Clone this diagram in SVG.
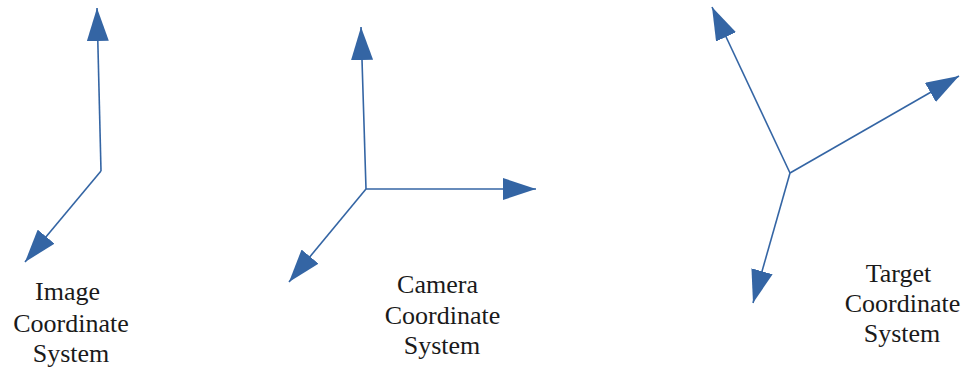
<svg xmlns="http://www.w3.org/2000/svg" width="964" height="373" viewBox="0 0 964 373">
  <defs>
    <marker id="ah" markerUnits="userSpaceOnUse" markerWidth="33" markerHeight="22" refX="33" refY="11" orient="auto" viewBox="0 0 33 22">
      <path d="M0,0 L33,11 L0,22 Z" fill="#3465a4"/>
    </marker>
  </defs>
  <style>
    .ax { stroke: #3465a4; stroke-width: 1.6; fill: none; marker-end: url(#ah); }
    .lbl { font-family: "Liberation Serif", "Times New Roman", serif; font-size: 26px; fill: #1a1a1a; text-anchor: middle; }
  </style>
  <rect width="964" height="373" fill="#ffffff"/>
  <g id="connectors">
    <line class="ax" x1="101" y1="171" x2="97" y2="8"/>
    <line class="ax" x1="101" y1="171" x2="25" y2="262"/>
    <line class="ax" x1="366" y1="189" x2="361" y2="27"/>
    <line class="ax" x1="366" y1="189" x2="536" y2="189"/>
    <line class="ax" x1="366" y1="189" x2="289" y2="282"/>
    <line class="ax" x1="790" y1="173" x2="712" y2="7"/>
    <line class="ax" x1="790" y1="173" x2="959" y2="76"/>
    <line class="ax" x1="790" y1="173" x2="753" y2="303"/>
  </g>
  <g id="image-label">
    <text class="lbl" x="67.5" y="300">Image</text>
    <text class="lbl" x="71" y="332">Coordinate</text>
    <text class="lbl" x="71" y="362">System</text>
  </g>
  <g id="camera-label">
    <text class="lbl" x="437.5" y="293">Camera</text>
    <text class="lbl" x="442.5" y="324">Coordinate</text>
    <text class="lbl" x="442" y="354">System</text>
  </g>
  <g id="target-label">
    <text class="lbl" x="898.5" y="282">Target</text>
    <text class="lbl" x="902.5" y="312">Coordinate</text>
    <text class="lbl" x="902" y="342">System</text>
  </g>
</svg>
